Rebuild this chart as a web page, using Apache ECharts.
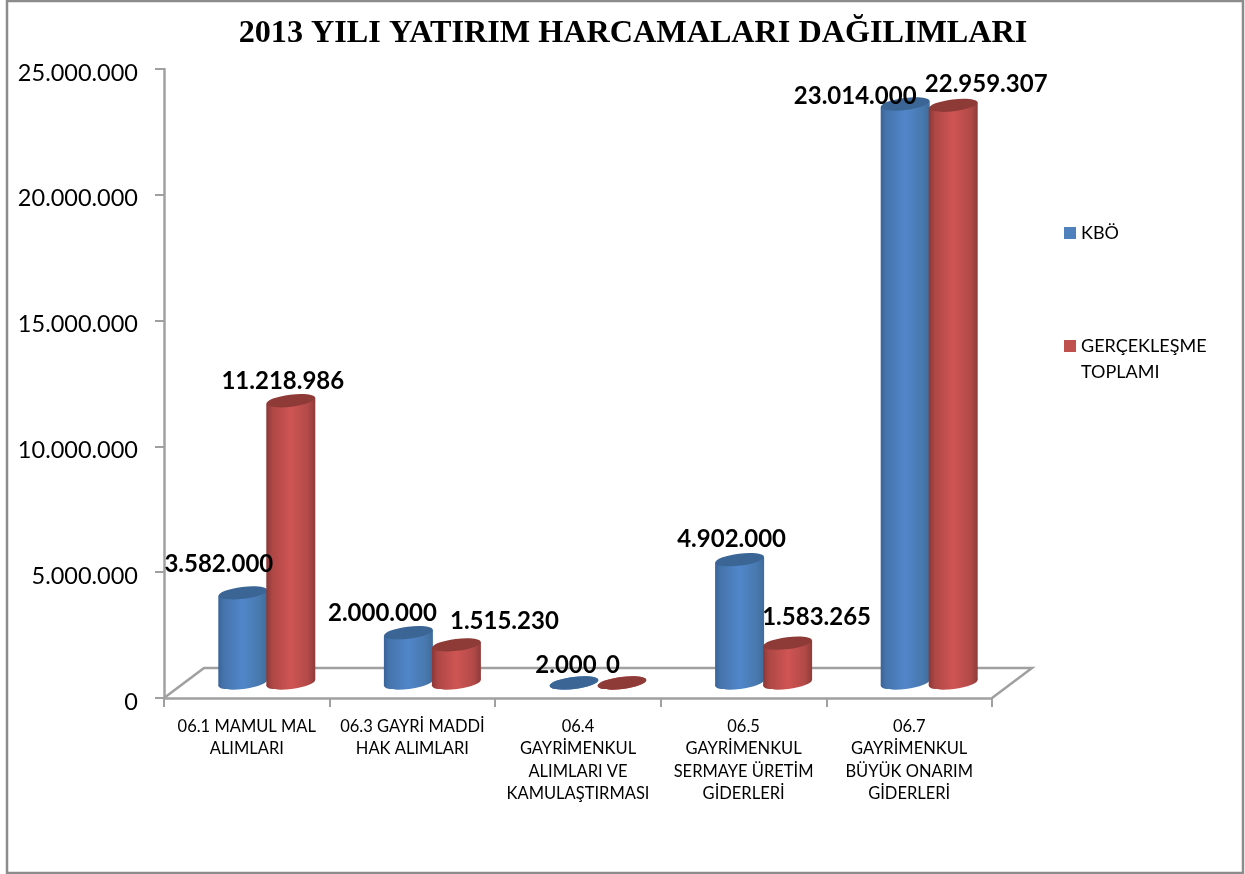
<!DOCTYPE html>
<html>
<head>
<meta charset="utf-8">
<style>
  html, body { margin: 0; padding: 0; background: #fff; }
  #chart { width: 1245px; height: 874px; }
</style>
<script src="https://cdn.jsdelivr.net/npm/echarts@6/dist/echarts.min.js"></script>
</head>
<body>
<div id="chart"></div>
<script>
const categories = [
  '06.1 MAMUL MAL\nALIMLARI',
  '06.3 GAYRİ MADDİ\nHAK ALIMLARI',
  '06.4\nGAYRİMENKUL\nALIMLARI VE\nKAMULAŞTIRMASI',
  '06.5\nGAYRİMENKUL\nSERMAYE ÜRETİM\nGİDERLERİ',
  '06.7\nGAYRİMENKUL\nBÜYÜK ONARIM\nGİDERLERİ'
]
const kbo = [3582000, 2000000, 2000, 4902000, 23014000]
const gerceklesme = [11218986, 1515230, 0, 1583265, 22959307]

// hand placed label offsets, the original labels were moved around in excel
const kboLabelOffset = [[-24, -29], [-26, -19], [-8, -18], [-8, -20], [-50, -8]]
const gerLabelOffset = [[-8, -19], [48, -24], [-9, -18], [29, -26], [33, -21]]

const FLOOR_X = 40
const FLOOR_Y = 30
const BAR_R = 24.5
const TILT = 3
const RY = 6
const GREY = '#a0a0a0'

const fmt = v => String(v).replace(/\B(?=(\d{3})+$)/g, '.')

function bodyGradient (stops) {
  return new echarts.graphic.LinearGradient(0, 0, 1, 0, stops.map((c, i) => ({
    offset: [0, 0.12, 0.5, 0.85, 1][i],
    color: c
  })))
}
const blueBody = () => bodyGradient(['#39649a', '#4675ad', '#5086ca', '#4878ad', '#3f6c9c'])
const redBody = () => bodyGradient(['#8a3836', '#ad4745', '#cf5553', '#b24a48', '#8e3c3a'])

function cylinder (side, topColor, body) {
  return function (params, api) {
    const cat = api.value(0)
    const base = api.coord([cat, 0])
    const top = api.coord([cat, api.value(1)])
    const cx = base[0] + FLOOR_X / 2 + side * 24
    const by = base[1] - FLOOR_Y / 2
    const ty = top[1] - FLOOR_Y / 2
    const rot = TILT / BAR_R
    const ellipse = (cy, fill) => ({
      type: 'ellipse',
      shape: { cx: 0, cy: 0, rx: BAR_R, ry: RY },
      x: cx,
      y: cy,
      rotation: rot,
      style: { fill: fill }
    })
    const children = [ellipse(by, body())]
    if (by - ty > 2) {
      children.push({
        type: 'polygon',
        shape: {
          points: [
            [cx - BAR_R, ty + TILT], [cx + BAR_R, ty - TILT],
            [cx + BAR_R, by - TILT], [cx - BAR_R, by + TILT]
          ]
        },
        style: { fill: body() }
      })
    }
    children.push(ellipse(ty, topColor))
    return { type: 'group', children: children }
  }
}

function labelItem (offsets, side) {
  return function (params, api) {
    const cat = api.value(0)
    const top = api.coord([cat, api.value(1)])
    const off = offsets[params.dataIndex]
    return {
      type: 'text',
      x: top[0] + FLOOR_X / 2 + side * 24 + off[0],
      y: top[1] - FLOOR_Y / 2 + off[1],
      style: {
        text: fmt(api.value(1)),
        align: 'center',
        verticalAlign: 'middle',
        font: 'bold 24px Lato',
        fill: '#000'
      }
    }
  }
}

function floorItem (params, api) {
  const g = params.coordSys
  const left = g.x
  const right = g.x + g.width
  const y = g.y + g.height
  return {
    type: 'polyline',
    shape: {
      points: [
        [left, y], [left + FLOOR_X, y - FLOOR_Y], [right + FLOOR_X, y - FLOOR_Y], [right, y]
      ]
    },
    style: { fill: 'none', stroke: GREY, lineWidth: 2.5 }
  }
}

const chart = echarts.init(document.getElementById('chart'))
chart.setOption({
  animation: false,
  backgroundColor: '#fff',
  title: {
    text: '2013 YILI YATIRIM HARCAMALARI DAĞILIMLARI',
    left: 628,
    top: 13,
    textAlign: 'center',
    textStyle: {
      fontFamily: 'Liberation Serif',
      fontWeight: 'bold',
      fontSize: 32.2,
      color: '#000'
    }
  },
  legend: {
    orient: 'vertical',
    left: 1059,
    top: 215,
    icon: 'rect',
    itemWidth: 12,
    itemHeight: 12,
    itemGap: 61,
    selectedMode: false,
    textStyle: { fontFamily: 'Lato', fontSize: 18, color: '#000', lineHeight: 26 },
    // blank first line keeps the swatch beside GERÇEKLEŞME, not between the two lines
    formatter: name => name.includes('\n') ? ' \n' + name : name,
    data: ['KBÖ', 'GERÇEKLEŞME\nTOPLAMI']
  },
  grid: { left: 164, right: 253, top: 69, bottom: 176, containLabel: false },
  xAxis: {
    type: 'category',
    data: categories,
    axisLine: { lineStyle: { color: GREY, width: 2.5 } },
    axisTick: { show: true, length: 9, alignWithLabel: false, lineStyle: { color: GREY, width: 2 } },
    axisLabel: {
      interval: 0,
      margin: 17,
      fontFamily: 'Lato',
      fontSize: 16.5,
      lineHeight: 22.5,
      color: '#000'
    }
  },
  yAxis: {
    type: 'value',
    min: 0,
    max: 25000000,
    interval: 5000000,
    axisLine: { show: true, lineStyle: { color: GREY, width: 2.5 } },
    axisTick: { show: true, length: 9, lineStyle: { color: GREY, width: 2 } },
    splitLine: { show: false },
    axisLabel: {
      margin: 26,
      formatter: v => '{a|' + fmt(v) + '}',
      rich: {
        // top padding pushes the numbers down a little from the tick
        a: { fontFamily: 'Lato', fontSize: 23.5, color: '#000', padding: [8, 0, 0, 0] }
      }
    }
  },
  series: [
    {
      name: 'floor',
      type: 'custom',
      z: 1,
      silent: true,
      renderItem: floorItem,
      data: [[0, 0]]
    },
    {
      name: 'KBÖ',
      type: 'custom',
      z: 2,
      itemStyle: { color: '#4f81bd' },
      renderItem: cylinder(-1, '#3a6595', blueBody),
      encode: { x: 0, y: 1 },
      data: kbo.map((v, i) => [i, v])
    },
    {
      name: 'GERÇEKLEŞME\nTOPLAMI',
      type: 'custom',
      z: 3,
      itemStyle: { color: '#c0504d' },
      renderItem: cylinder(1, '#8e3b38', redBody),
      encode: { x: 0, y: 1 },
      data: gerceklesme.map((v, i) => [i, v])
    },
    {
      name: 'kboLabels',
      type: 'custom',
      z: 5,
      silent: true,
      renderItem: labelItem(kboLabelOffset, -1),
      encode: { x: 0, y: 1 },
      data: kbo.map((v, i) => [i, v])
    },
    {
      name: 'gerLabels',
      type: 'custom',
      z: 5,
      silent: true,
      renderItem: labelItem(gerLabelOffset, 1),
      encode: { x: 0, y: 1 },
      data: gerceklesme.map((v, i) => [i, v])
    }
  ],
  graphic: [{
    type: 'rect',
    z: 0,
    silent: true,
    shape: { x: 7, y: 1, width: 1236, height: 872 },
    style: { fill: 'none', stroke: '#8c8c8c', lineWidth: 2.5 }
  }]
})
</script>
</body>
</html>
